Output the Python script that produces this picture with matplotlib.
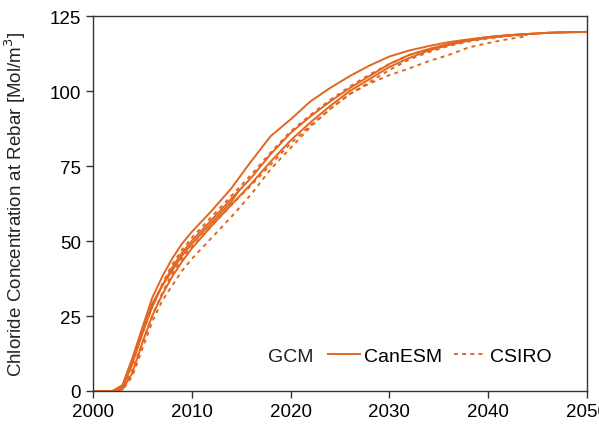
import matplotlib
matplotlib.use("Agg")
import matplotlib.pyplot as plt
from matplotlib.lines import Line2D

plt.rcParams["font.family"] = ["Liberation Sans", "DejaVu Sans"]

ORANGE = "#E2661F"

years = [2000, 2002, 2003, 2004, 2005, 2006, 2007, 2008, 2009, 2010, 2012, 2014,
         2016, 2018, 2020, 2022, 2024, 2026, 2028, 2030, 2032, 2034, 2036, 2038,
         2040, 2042, 2044, 2046, 2048, 2050]

# CanESM runs (solid)
canesm_1 = [0, 0, 2, 11, 21, 31, 38, 44, 49, 53, 60, 67.5, 76.5, 85, 90.5, 96.5, 101,
            105, 108.5, 111.5, 113.5, 115, 116.3, 117.2, 118, 118.6, 119, 119.4, 119.6, 119.7]
canesm_2 = [0, 0, 1, 9, 19, 28, 35, 41, 46, 50, 57, 64, 71, 79, 86, 91.5, 96.5,
            101, 105, 109, 112, 114, 115.7, 117, 118, 118.6, 119, 119.4, 119.6, 119.7]
canesm_3 = [0, 0, 0.5, 6, 16, 25, 32, 38, 43, 47.5, 55, 62, 69, 76.5, 83.5, 89.5, 95,
            100, 104, 108, 111, 113.5, 115.3, 116.8, 117.8, 118.5, 119, 119.4, 119.6, 119.7]
short_years = [2000, 2002, 2003, 2004, 2005, 2006, 2007, 2008, 2009, 2010, 2012, 2014, 2014.8]
canesm_4 = [0, 0, 1.5, 10, 20, 29, 35, 40, 45, 49, 56, 63, 67]

# CSIRO runs (dashed), stop around 2043
csiro_years = years[:27]
csiro_1 = [0, 0, 1, 10, 19, 28, 35.5, 42, 47, 51, 58, 65, 72, 79.5, 86.5, 92, 97,
           101.5, 105.5, 109, 112, 114, 115.5, 116.8, 117.8, 118.5, 119]
csiro_2 = [0, 0, 0.5, 7, 16, 25, 32.5, 39, 44, 48, 55, 62, 68.5, 75.5, 82.5, 88.5, 94,
           99, 103, 107, 110.5, 113, 115, 116.5, 117.5, 118.3, 118.8]
csiro_3 = [0, 0, 0.3, 5, 14, 23, 30, 35, 40, 44, 51, 58, 65.5, 74, 81, 88, 94,
           99, 102.5, 105.3, 107.5, 110, 112, 114.5, 116, 117.3, 118.3]

fig = plt.figure(figsize=(5.99, 4.31), dpi=100)
ax = fig.add_axes([0.155, 0.0905, 0.825, 0.87])

for s in [canesm_1, canesm_2, canesm_3]:
    ax.plot(years, s, color=ORANGE, linewidth=1.4)
ax.plot(short_years, canesm_4, color=ORANGE, linewidth=1.4)
for s in [csiro_1, csiro_2, csiro_3]:
    ax.plot(csiro_years, s, color=ORANGE, linewidth=1.4, linestyle=(0, (2, 2.2)))

ax.set_xlim(2000, 2050)
ax.set_ylim(0, 125)
ax.set_xticks([2000, 2010, 2020, 2030, 2040, 2050])
ax.set_yticks([0, 25, 50, 75, 100, 125])
ax.tick_params(axis="both", direction="out", length=5, width=1, labelsize=13.5,
               colors="#333333", labelcolor="black")
for sp in ax.spines.values():
    sp.set_linewidth(1)
    sp.set_color("#333333")
ax.set_ylabel("Chloride Concentration at Rebar [Mol/m$^3$]", fontsize=13.5, color="#222222")
ax.yaxis.set_label_coords(-0.132, 0.5)

handles = [
    Line2D([], [], color=ORANGE, linewidth=1.4),
    Line2D([], [], color=ORANGE, linewidth=1.4, linestyle=(0, (2, 2.2))),
]
ax.text(0.354, 0.093, "GCM", transform=ax.transAxes, fontsize=14,
        ha="left", va="center", color="#222222")
ax.legend(handles, ["CanESM", "CSIRO"], ncol=2, frameon=False, fontsize=14,
          loc="center left", bbox_to_anchor=(0.476, 0.093), handlelength=1.65,
          handletextpad=0.2, columnspacing=0.6, borderaxespad=0, borderpad=0)

fig.savefig("out.png", dpi=100)
